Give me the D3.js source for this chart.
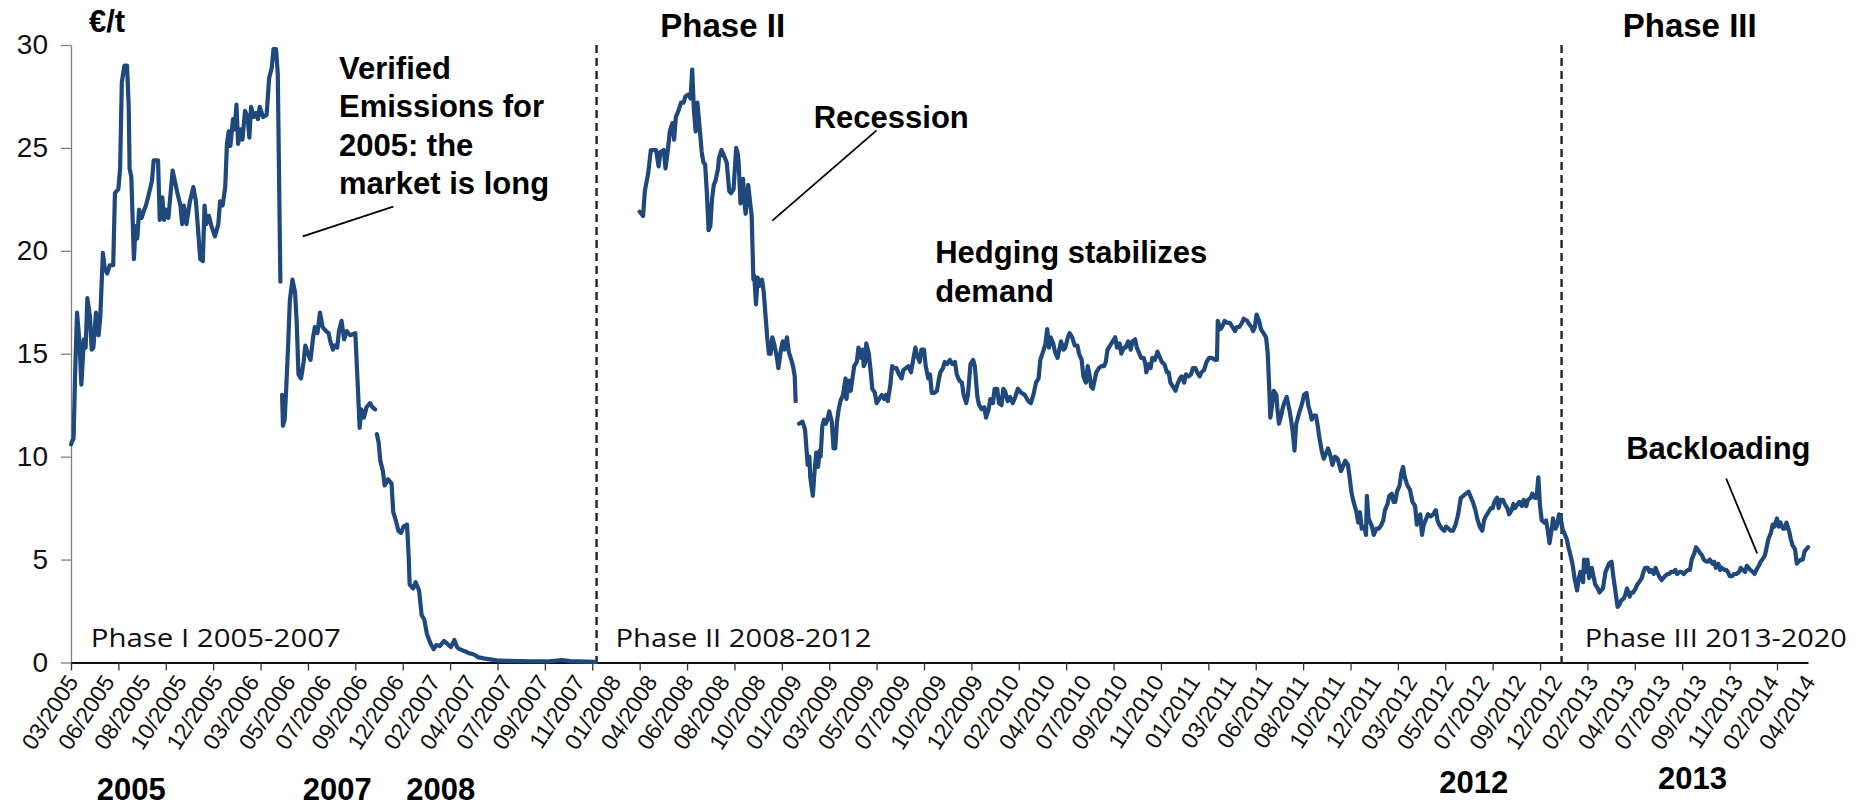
<!DOCTYPE html>
<html><head><meta charset="utf-8">
<script src="https://cdn.jsdelivr.net/npm/d3@7"></script>
<style>body{margin:0;background:#fff}svg{display:block}</style>
</head><body>
<svg id="chart" width="1860" height="808"></svg>
<script>
// ---------- data ----------
const yTicks = [0, 5, 10, 15, 20, 25, 30];
const xLabels = ["03/2005","06/2005","08/2005","10/2005","12/2005","03/2006","05/2006","07/2006","09/2006","12/2006",
 "02/2007","04/2007","07/2007","09/2007","11/2007","01/2008","04/2008","06/2008","08/2008","10/2008",
 "01/2009","03/2009","05/2009","07/2009","10/2009","12/2009","02/2010","04/2010","07/2010","09/2010",
 "11/2010","01/2011","03/2011","06/2011","08/2011","10/2011","12/2011","03/2012","05/2012","07/2012",
 "09/2012","12/2012","02/2013","04/2013","07/2013","09/2013","11/2013","02/2014","04/2014"];
const labelEvery = 42;      // trading days between axis labels
const tickEvery = 55;       // trading days between tick marks
const lastDay = 2016;
const phaseBreaks = [610, 1730];   // day index of Phase II / Phase III start
// [trading-day index, EUA price €/t]; null = no quote
const priceSeries = [
[0,10.6],[3,10.9],[5,14.3],[7,17.0],[10,15.5],[12,13.5],[15,15.7],[17,15.3],[19,17.7],[22,16.8],[24,15.2],[26,15.3],[29,17.0],[32,15.9],[34,16.8],[37,19.9],[39,19.2],[42,18.9],[45,19.3],[49,19.3],[51,22.8],[55,23.0],[57,24.0],[59,28.2],[62,29.0],[65,29.0],[67,27.0],[68,24.0],[70,23.6],[73,19.6],[75,21.2],[77,20.6],[79,22.0],[82,21.6],[85,22.0],[87,22.2],[90,22.7],[94,23.4],[96,24.4],[101,24.4],[103,21.5],[106,22.6],[108,21.5],[110,22.0],[113,21.6],[118,23.9],[121,23.3],[123,22.9],[127,22.2],[129,21.3],[131,22.2],[134,21.3],[138,22.4],[142,23.1],[145,22.4],[147,21.3],[150,19.6],[153,19.5],[155,22.2],[157,21.3],[160,21.7],[163,21.2],[167,20.7],[171,21.3],[173,22.4],[176,22.2],[179,23.1],[181,25.2],[183,25.8],[185,25.1],[188,26.4],[190,25.9],[192,27.1],[194,25.2],[197,25.9],[199,25.4],[202,26.8],[205,26.5],[207,25.5],[209,27.0],[212,26.5],[215,26.7],[217,26.4],[219,27.0],[223,26.5],[227,26.6],[230,28.4],[233,28.9],[235,29.8],[238,29.8],[240,28.6],[243,18.5],[244,null],
[245,13.0],[246,11.5],[248,11.8],[250,13.5],[252,15.4],[254,17.6],[257,18.6],[260,18.0],[262,16.5],[264,14.0],[267,13.8],[270,14.6],[272,15.4],[275,15.0],[278,14.7],[281,15.8],[283,16.3],[286,16.0],[289,17.0],[292,16.3],[296,16.1],[299,16.0],[301,15.6],[304,15.2],[306,15.4],[309,15.3],[311,16.1],[314,16.6],[317,15.7],[320,16.1],[324,15.9],[330,16.0],[333,13.3],[335,11.4],[337,12.3],[340,11.9],[343,12.4],[347,12.6],[350,12.4],[353,12.3],[354,null],
[355,11.1],[357,10.7],[359,9.8],[362,9.3],[364,8.6],[368,8.9],[372,8.7],[374,7.3],[377,6.9],[380,6.4],[383,6.3],[386,6.6],[390,6.7],[392,5.1],[393,3.8],[397,3.6],[400,3.9],[404,3.5],[407,2.3],[410,2.1],[413,1.4],[417,0.95],[421,0.65],[424,0.85],[428,0.8],[433,1.05],[437,0.9],[441,0.75],[445,1.1],[448,0.75],[451,0.65],[457,0.55],[462,0.45],[467,0.4],[473,0.25],[479,0.2],[486,0.15],[494,0.1],[506,0.08],[521,0.07],[533,0.06],[552,0.05],[570,0.12],[579,0.07],[598,0.04],[609,0.03],[611,null],
[660,21.9],[664,21.7],[666,22.9],[670,23.8],[673,24.9],[676,24.9],[679,24.9],[682,24.1],[684,24.8],[688,24.9],[690,24.0],[693,25.0],[695,25.8],[698,26.2],[700,25.4],[702,26.5],[705,26.8],[708,27.2],[711,27.2],[713,27.5],[717,27.6],[719,27.4],[721,28.8],[723,26.8],[725,25.8],[727,27.2],[730,25.8],[732,24.8],[734,24.3],[736,24.2],[738,22.8],[740,21.0],[742,21.2],[744,22.5],[746,23.2],[748,23.4],[751,24.0],[752,24.5],[755,24.9],[758,24.6],[761,24.3],[764,22.9],[766,22.8],[769,23.0],[772,25.0],[774,24.7],[775,24.2],[777,22.3],[780,23.5],[782,22.2],[783,21.8],[786,23.2],[787,22.8],[790,21.7],[792,18.6],[793,18.8],[795,17.4],[797,18.7],[799,18.3],[802,18.6],[804,18.0],[806,16.9],[808,15.8],[810,15.0],[812,15.0],[814,15.8],[816,15.5],[819,14.9],[821,14.3],[824,15.2],[826,15.6],[828,15.2],[831,15.8],[833,15.1],[836,14.7],[838,14.4],[840,13.9],[841,12.7],[843,null],
[845,11.6],[849,11.7],[852,11.3],[855,9.6],[857,10.0],[858,9.0],[861,8.1],[863,9.3],[865,10.2],[867,9.5],[869,10.3],[870,10.0],[872,11.5],[874,11.8],[876,11.6],[878,11.8],[880,12.2],[883,11.7],[885,10.4],[887,10.4],[889,11.7],[891,12.3],[893,12.7],[896,13.0],[899,13.8],[900,12.8],[903,13.7],[905,13.2],[907,13.8],[909,14.4],[912,14.6],[914,15.3],[917,14.8],[919,15.2],[920,14.4],[922,14.6],[923,15.5],[926,15.0],[928,14.2],[930,13.3],[933,13.1],[935,12.6],[938,12.8],[941,13.0],[944,12.8],[946,13.0],[948,12.7],[951,13.5],[953,14.4],[955,14.3],[958,14.3],[961,14.0],[964,13.8],[966,14.2],[969,14.3],[972,14.4],[975,14.1],[977,14.6],[980,15.3],[982,14.9],[985,14.6],[987,15.2],[990,15.2],[992,14.4],[995,13.8],[997,14.0],[999,13.1],[1002,13.1],[1005,13.2],[1007,13.7],[1009,14.1],[1012,14.3],[1014,14.6],[1017,14.5],[1020,14.7],[1023,14.5],[1026,14.6],[1028,14.0],[1031,13.7],[1034,13.6],[1036,13.0],[1039,12.6],[1041,13.0],[1044,14.5],[1047,14.7],[1049,14.4],[1052,12.9],[1054,12.5],[1057,12.3],[1060,12.4],[1062,11.9],[1065,12.3],
[1067,12.8],[1070,12.6],[1072,13.3],[1075,13.3],[1077,12.6],[1080,12.5],[1082,13.3],[1084,13.2],[1087,12.7],[1090,12.9],[1093,12.6],[1096,12.9],[1099,13.3],[1103,13.1],[1107,13.0],[1111,12.7],[1114,12.6],[1117,13.0],[1120,13.6],[1123,13.8],[1125,14.7],[1129,15.2],[1131,15.5],[1133,16.2],[1135,15.3],[1137,15.8],[1140,15.5],[1142,15.1],[1145,14.8],[1147,15.2],[1149,15.6],[1152,15.2],[1154,15.3],[1157,15.8],[1159,16.0],[1162,15.8],[1165,15.4],[1168,15.4],[1170,15.0],[1173,14.7],[1175,13.9],[1178,13.6],[1180,14.4],[1182,14.0],[1184,13.4],[1186,13.3],[1188,13.7],[1190,14.1],[1193,14.3],[1196,14.4],[1199,14.4],[1201,14.6],[1203,15.2],[1206,15.4],[1209,15.6],[1212,15.8],[1214,15.3],[1217,15.5],[1219,15.0],[1222,15.3],[1224,15.3],[1227,15.6],[1230,15.2],[1232,15.6],[1235,15.7],[1237,15.3],[1240,15.0],[1242,14.8],[1245,14.8],[1247,14.5],[1248,14.1],[1251,14.5],[1253,14.3],[1255,14.8],[1258,14.7],[1261,15.1],[1263,14.9],[1266,14.6],[1269,14.5],[1272,14.1],[1274,14.1],[1276,13.6],[1279,13.4],[1282,13.2],[1284,13.5],[1287,13.8],[1289,13.9],[1292,13.6],[1294,14.0],[1297,13.9],[1300,14.0],[1302,14.3],[1305,14.3],[1307,14.1],[1310,13.9],[1312,14.1],[1315,14.2],[1318,14.6],[1321,14.8],[1324,14.8],[1328,14.7],[1330,14.7],[1331,16.6],[1334,16.2],[1336,16.3],[1339,16.6],[1342,16.5],[1345,16.5],[1348,16.3],[1351,16.1],[1353,16.3],[1356,16.3],[1359,16.5],[1361,16.7],[1365,16.6],[1368,16.4],[1370,16.3],[1372,16.1],[1374,16.3],[1376,16.9],[1379,16.6],[1381,16.2],[1384,16.0],[1387,15.8],[1389,15.0],[1391,13.0],[1392,11.9],[1394,12.5],[1396,13.2],[1399,13.0],[1400,12.4],[1402,11.6],[1404,11.9],[1406,12.3],[1408,12.6],[1411,12.9],[1414,12.3],[1416,11.8],[1418,11.2],[1420,10.3],[1422,11.6],[1424,11.9],[1426,12.2],[1429,12.6],[1431,13.0],[1434,13.1],[1436,12.5],[1438,12.2],[1440,11.8],[1442,12.0],[1445,12.0],[1447,11.5],[1449,10.9],[1452,10.2],[1454,9.9],[1457,10.2],[1459,10.4],[1462,10.0],[1464,9.6],[1467,10.0],[1470,9.9],[1472,9.6],[1474,9.3],[1477,9.6],[1479,9.8],[1482,9.6],[1484,9.0],[1486,8.3],[1488,7.9],[1490,7.6],[1492,7.3],[1494,6.8],[1496,7.3],[1498,6.5],[1501,6.6],[1503,6.2],[1504,8.1],[1506,7.0],[1508,6.8],[1510,6.6],[1512,6.2],[1515,6.5],[1518,6.5],[1521,6.7],[1523,6.9],[1525,7.4],[1528,7.7],[1530,8.1],[1533,8.2],[1535,7.8],[1537,7.8],[1539,8.3],[1542,8.6],[1544,9.2],
[1546,9.5],[1548,9.0],[1551,8.6],[1554,8.4],[1557,7.8],[1560,7.6],[1562,6.7],[1564,6.9],[1566,7.2],[1568,6.2],[1570,6.7],[1573,7.0],[1575,7.2],[1578,7.1],[1581,7.2],[1584,7.4],[1586,6.9],[1588,6.7],[1591,6.5],[1594,6.4],[1596,6.6],[1599,6.5],[1601,6.4],[1604,6.4],[1607,6.7],[1610,7.2],[1613,8.0],[1616,8.1],[1619,8.2],[1622,8.3],[1625,8.0],[1627,7.8],[1630,7.4],[1632,7.0],[1635,6.6],[1638,6.4],[1640,6.9],[1642,7.1],[1645,7.3],[1648,7.5],[1650,7.5],[1652,7.8],[1655,8.0],[1657,7.5],[1659,7.9],[1662,7.9],[1664,7.7],[1667,7.5],[1669,7.2],[1672,7.4],[1674,7.7],[1676,7.5],[1679,7.7],[1681,7.8],[1684,7.6],[1686,7.9],[1689,7.6],[1691,7.9],[1694,8.0],[1696,8.2],[1699,8.0],[1701,8.0],[1703,9.0],[1705,7.6],[1707,6.9],[1710,6.8],[1712,6.9],[1714,6.4],[1716,5.8],[1719,6.6],[1720,7.0],[1723,6.5],[1725,6.7],[1727,7.2],[1729,7.0],[1731,6.5],[1734,6.2],[1736,6.0],[1738,5.6],[1741,5.1],[1743,4.7],[1745,4.1],[1748,3.5],[1750,4.1],[1752,4.4],[1755,3.9],[1756,5.0],[1758,4.4],[1760,5.0],[1762,4.1],[1765,4.6],[1767,4.2],[1769,3.8],[1772,3.6],[1774,3.4],[1776,3.5],[1778,3.6],[1781,4.4],[1783,4.6],[1785,4.8],[1788,4.9],[1790,4.2],[1792,3.6],[1795,2.7],[1797,2.8],[1799,3.0],[1802,3.1],[1804,3.3],[1806,3.6],[1809,3.2],[1811,3.4],[1813,3.4],[1816,3.6],[1818,3.8],[1820,3.9],[1823,4.1],[1825,4.4],[1827,4.6],[1830,4.6],[1832,4.4],[1834,4.5],[1837,4.3],[1839,4.6],[1841,4.4],[1843,4.2],[1846,4.0],[1848,4.1],[1850,4.2],[1853,4.3],[1855,4.3],[1857,4.4],[1860,4.4],[1862,4.5],[1864,4.3],[1867,4.4],[1869,4.4],[1872,4.3],[1874,4.4],[1877,4.5],[1879,4.5],[1881,5.0],[1884,5.3],[1886,5.6],[1888,5.5],[1891,5.3],[1893,5.2],[1895,5.0],[1898,4.9],[1900,4.9],[1902,5.0],[1905,4.8],[1907,4.9],[1909,4.6],[1912,4.8],[1914,4.5],[1916,4.6],[1919,4.5],[1921,4.5],[1923,4.4],[1925,4.2],[1928,4.2],[1930,4.3],[1933,4.3],[1936,4.4],[1938,4.6],[1940,4.5],[1943,4.4],[1945,4.7],[1947,4.6],[1949,4.5],[1952,4.4],[1954,4.3],[1956,4.5],[1959,4.7],[1961,4.9],[1963,5.0],[1966,5.2],[1968,5.6],[1970,6.0],[1973,6.3],[1975,6.7],[1977,6.6],[1980,7.0],[1982,6.6],[1984,6.8],[1987,6.5],[1989,6.5],[1991,6.8],[1994,6.4],[1996,6.0],[1998,5.7],[2001,5.5],[2003,4.8],[2005,4.9],[2008,5.0],[2010,5.0],[2012,5.4],[2014,5.5],[2016,5.6]
];
// annotations (day index, €/t)
const calloutTexts = [
  {lines:["Verified","Emissions for","2005: the","market is long"], day:311, value:28.35},
  {lines:["Recession"], day:862, value:25.95},
  {lines:["Hedging stabilizes","demand"], day:1003, value:19.4},
  {lines:["Backloading"], day:1805, value:9.9}
];
const leaders = [
  {from:[269,20.7], to:[374,22.15]},
  {from:[814,21.47], to:[935,25.85]},
  {from:[1921,8.94], to:[1957,5.3]}
];
const phaseTitles = [{text:"Phase II", day:684}, {text:"Phase III", day:1801}];
const phaseNotes = [{text:"Phase I 2005-2007", day:23, w:250}, {text:"Phase II 2008-2012", day:632, w:256}, {text:"Phase III 2013-2020", day:1757, w:262}];
const yearNotes = [{text:"2005", day:30, yPx:800}, {text:"2007", day:269, yPx:800}, {text:"2008", day:389, yPx:800}, {text:"2012", day:1588, yPx:793}, {text:"2013", day:1842, yPx:789}];

// ---------- drawing ----------
const svg = d3.select("#chart");
const x = d3.scaleLinear().domain([0, lastDay]).range([71, 1808]);
const y = d3.scaleLinear().domain([0, 30]).range([662.5, 45]);
const BOLD = "'Liberation Sans', Arial, sans-serif";

// y axis
const gy = svg.append("g").attr("transform", `translate(${x(0)},0)`)
  .call(d3.axisLeft(y).tickValues(yTicks).tickSize(10).tickSizeOuter(0).tickPadding(13));
gy.select(".domain").attr("stroke", "#808080").attr("stroke-width", 1.3);
gy.selectAll(".tick line").attr("stroke", "#808080").attr("stroke-width", 1.3);
gy.selectAll(".tick text").attr("font-family", BOLD).attr("font-size", 28).attr("fill", "#111");

// x axis ticks
const gx = svg.append("g").attr("transform", `translate(0,${y(0)})`)
  .call(d3.axisBottom(x).tickValues(d3.range(0, lastDay + 1, tickEvery)).tickSize(8).tickSizeOuter(0).tickFormat(""));
gx.select(".domain").attr("stroke", "#111").attr("stroke-width", 2);
gx.selectAll(".tick line").attr("stroke", "#333").attr("stroke-width", 1.3);

// x labels
const gl = svg.append("g").attr("transform", `translate(0,${y(0)})`)
  .call(d3.axisBottom(x).tickValues(xLabels.map((_, i) => i * labelEvery)).tickSize(0).tickFormat((d, i) => xLabels[i]));
gl.select(".domain").remove();
gl.selectAll(".tick text")
  .attr("font-family", BOLD).attr("font-size", 23).attr("fill", "#111")
  .attr("text-anchor", "end").attr("x", 0).attr("y", 0).attr("dy", "0.35em")
  .attr("transform", "translate(1,15) rotate(-57)");

// phase boundaries
svg.append("g").selectAll("line").data(phaseBreaks).join("line")
  .attr("x1", d => x(d)).attr("x2", d => x(d))
  .attr("y1", y(30)).attr("y2", y(0) + 3)
  .attr("stroke", "#222").attr("stroke-width", 2.4).attr("stroke-dasharray", "8,5");

// price line
const line = d3.line().defined(d => d[1] != null).x(d => x(d[0])).y(d => y(d[1]));
svg.append("path").datum(priceSeries).attr("d", line)
  .attr("fill", "none").attr("stroke", "#1f497d").attr("stroke-width", 4.2)
  .attr("stroke-linejoin", "round").attr("stroke-linecap", "round");

// unit label
svg.append("text").attr("x", x(0) + 18).attr("y", 32).text("€/t")
  .attr("font-family", BOLD).attr("font-weight", "bold").attr("font-size", 31);

// phase titles
svg.append("g").selectAll("text").data(phaseTitles).join("text")
  .attr("x", d => x(d.day)).attr("y", 37).text(d => d.text)
  .attr("font-family", BOLD).attr("font-weight", "bold").attr("font-size", 33);

// phase notes at bottom of plot
svg.append("g").selectAll("text").data(phaseNotes).join("text")
  .attr("x", d => x(d.day)).attr("y", y(0) - 16).text(d => d.text)
  .attr("textLength", d => d.w).attr("lengthAdjust", "spacingAndGlyphs")
  .attr("font-family", "'Open Sans', sans-serif").attr("font-size", 26).attr("fill", "#111");

// callouts
const ct = svg.append("g").selectAll("text").data(calloutTexts).join("text")
  .attr("font-family", BOLD).attr("font-weight", "bold").attr("font-size", 31)
  .attr("x", d => x(d.day)).attr("y", d => y(d.value));
ct.selectAll("tspan").data(d => d.lines.map(l => ({l, x: x(d.day)}))).join("tspan")
  .attr("x", d => d.x).attr("dy", (d, i) => i ? 38.5 : 0).text(d => d.l);

svg.append("g").selectAll("line").data(leaders).join("line")
  .attr("x1", d => x(d.from[0])).attr("y1", d => y(d.from[1]))
  .attr("x2", d => x(d.to[0])).attr("y2", d => y(d.to[1]))
  .attr("stroke", "#000").attr("stroke-width", 1.8);

// years under axis
svg.append("g").selectAll("text").data(yearNotes).join("text")
  .attr("x", d => x(d.day)).attr("y", d => d.yPx).text(d => d.text)
  .attr("font-family", BOLD).attr("font-weight", "bold").attr("font-size", 31);
</script>
</body></html>
